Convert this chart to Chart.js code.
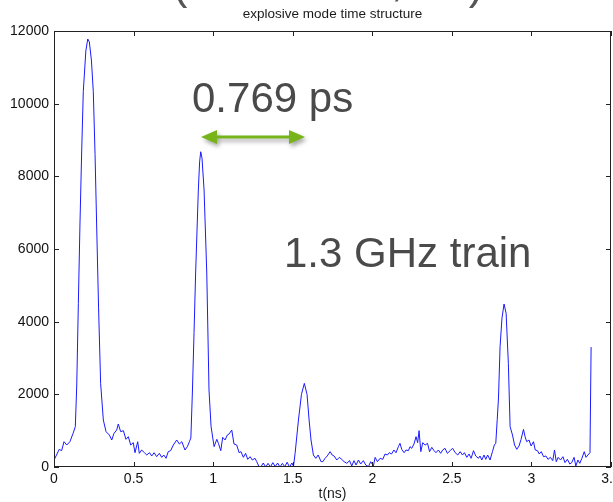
<!DOCTYPE html>
<html>
<head>
<meta charset="utf-8">
<script src="https://cdn.jsdelivr.net/npm/chart.js@4/dist/chart.umd.min.js"></script>
<style>
  html, body { margin: 0; padding: 0; background: #fff; }
  canvas { display: block; }
</style>
</head>
<body>
<canvas id="timeChart" width="613" height="502"></canvas>
<script>
// time axis (ns) and signal
const timeNs = [
  0.000, 0.033, 0.048, 0.063, 0.080, 0.100, 0.120, 0.134, 0.143, 0.153,
  0.163, 0.174, 0.184, 0.200, 0.212, 0.222, 0.235, 0.247, 0.258, 0.268,
  0.280, 0.293, 0.310, 0.327, 0.348, 0.363, 0.377, 0.394, 0.404, 0.419,
  0.436, 0.452, 0.467, 0.482, 0.498, 0.509, 0.526, 0.536, 0.551, 0.568,
  0.583, 0.600, 0.614, 0.629, 0.645, 0.662, 0.677, 0.690, 0.704, 0.718,
  0.733, 0.750, 0.771, 0.788, 0.803, 0.823, 0.838, 0.851, 0.860, 0.870,
  0.880, 0.890, 0.907, 0.915, 0.922, 0.930, 0.943, 0.960, 0.974, 0.987,
  1.006, 1.023, 1.033, 1.048, 1.060, 1.075, 1.089, 1.100, 1.117, 1.131,
  1.148, 1.163, 1.175, 1.190, 1.204, 1.217, 1.232, 1.246, 1.263, 1.274,
  1.289, 1.300, 1.315, 1.330, 1.345, 1.360, 1.375, 1.390, 1.405, 1.420,
  1.435, 1.450, 1.465, 1.480, 1.495, 1.505, 1.515, 1.536, 1.555, 1.573,
  1.590, 1.603, 1.615, 1.630, 1.645, 1.660, 1.678, 1.690, 1.703, 1.717,
  1.735, 1.748, 1.760, 1.777, 1.793, 1.808, 1.823, 1.840, 1.857, 1.871,
  1.885, 1.898, 1.913, 1.927, 1.944, 1.959, 1.976, 1.990, 2.007, 2.018,
  2.032, 2.049, 2.066, 2.080, 2.095, 2.107, 2.121, 2.136, 2.149, 2.164,
  2.174, 2.185, 2.200, 2.212, 2.227, 2.237, 2.248, 2.262, 2.275, 2.285,
  2.294, 2.305, 2.317, 2.332, 2.347, 2.360, 2.374, 2.388, 2.400, 2.415,
  2.430, 2.442, 2.457, 2.472, 2.489, 2.505, 2.520, 2.537, 2.552, 2.567,
  2.579, 2.594, 2.608, 2.621, 2.636, 2.650, 2.667, 2.677, 2.688, 2.702,
  2.713, 2.725, 2.740, 2.755, 2.767, 2.776, 2.785, 2.793, 2.803, 2.815,
  2.828, 2.841, 2.855, 2.866, 2.881, 2.894, 2.908, 2.922, 2.935, 2.950,
  2.960, 2.970, 2.985, 2.998, 3.013, 3.024, 3.038, 3.049, 3.062, 3.076,
  3.091, 3.104, 3.119, 3.134, 3.145, 3.156, 3.168, 3.183, 3.198, 3.211,
  3.226, 3.241, 3.253, 3.268, 3.279, 3.292, 3.304, 3.317, 3.332, 3.343,
  3.355, 3.368, 3.375
];
const counts = [
  190, 487, 449, 697, 605, 697, 927, 1110, 2257, 4500,
  6660, 8700, 10330, 11450, 11780, 11700, 11200, 10330, 8600, 6660,
  4400, 2300, 1293, 972, 880, 743, 927, 1018, 1183, 972,
  1000, 762, 835, 605, 670, 394, 697, 376, 468, 394,
  330, 394, 303, 394, 284, 376, 266, 330, 239, 422,
  450, 605, 743, 633, 697, 468, 560, 697, 800, 2119,
  3700, 5339, 7624, 8400, 8677, 8500, 7624, 5339, 2119, 1110,
  560, 762, 652, 449, 817, 743, 880, 908, 1018, 633,
  605, 394, 422, 266, 376, 211, 284, 193, 239, 147,
  0, 0, 110, 0, 100, 0, 120, 10, 110, 0,
  100, 10, 130, 0, 110, 20, 376, 1293, 2000, 2302,
  2000, 1293, 743, 330, 239, 330, 147, 150, 239, 303,
  422, 330, 303, 193, 266, 211, 147, 101, 175, 28,
  175, 55, 193, 82, 175, 55, 10, 147, 28, 266,
  147, 239, 211, 358, 330, 394, 358, 468, 394, 560,
  652, 486, 394, 468, 450, 560, 514, 633, 835, 670,
  1000, 422, 670, 605, 652, 422, 541, 450, 394, 468,
  376, 468, 514, 376, 450, 514, 400, 330, 422, 330,
  394, 266, 358, 239, 449, 303, 239, 303, 193, 330,
  211, 330, 193, 422, 605, 652, 1300, 1900, 3311, 4100,
  4486, 4230, 2854, 1110, 880, 605, 486, 578, 762, 1036,
  835, 697, 743, 578, 697, 468, 450, 358, 422, 284,
  303, 211, 266, 175, 468, 147, 266, 193, 284, 120,
  211, 82, 120, 266, 28, 193, 101, 239, 422, 266,
  330, 394, 3300
];
const xTicks = [0, 0.5, 1, 1.5, 2, 2.5, 3, 3.5];
const yTicks = [0, 2000, 4000, 6000, 8000, 10000, 12000];

const FONT = '"Liberation Sans", Arial, sans-serif';

// box around the axes, inward tick marks, title and slide annotations
const decorations = {
    id: 'decorations',
    afterDraw(chart) {
        const { ctx, chartArea: a, scales: { x, y } } = chart;
        ctx.save();
        ctx.strokeStyle = '#222';
        ctx.lineWidth = 1;
        ctx.strokeRect(a.left + 0.5, a.top + 0.5, a.right - a.left - 1, a.bottom - a.top - 1);
        ctx.beginPath();
        x.ticks.forEach(t => {
            const px = Math.round(x.getPixelForValue(t.value)) + 0.5;
            ctx.moveTo(px, a.bottom);
            ctx.lineTo(px, a.bottom - 5);
            ctx.moveTo(px, a.top);
            ctx.lineTo(px, a.top + 5);
        });
        y.ticks.forEach(t => {
            const py = Math.round(y.getPixelForValue(t.value)) + 0.5;
            ctx.moveTo(a.left, py);
            ctx.lineTo(a.left + 5, py);
            ctx.moveTo(a.right, py);
            ctx.lineTo(a.right - 5, py);
        });
        ctx.stroke();

        // title and x label
        ctx.fillStyle = '#1a1a1a';
        ctx.textAlign = 'center';
        ctx.textBaseline = 'middle';
        ctx.font = '13.5px ' + FONT;
        ctx.fillText('explosive mode time structure', (a.left + a.right) / 2, 14);
        ctx.font = '14px ' + FONT;
        ctx.fillText('t(ns)', (a.left + a.right) / 2, 494);

        // bottom of the slide heading, cut by the frame
        ctx.fillStyle = '#555';
        ctx.textBaseline = 'alphabetic';
        ctx.font = '44px ' + FONT;
        ctx.fillText('(', 180, -1);
        ctx.fillText(',', 397, -4);
        ctx.fillText(')', 476, -1);

        // annotations
        ctx.fillStyle = '#4a4a4a';
        ctx.textAlign = 'left';
        ctx.font = '42px ' + FONT;
        ctx.fillText('0.769 ps', 192, 112);
        ctx.fillText('1.3 GHz train', 284, 267);

        // green double arrow with soft shadow
        const x0 = 201, x1 = 305, ay = 137;
        ctx.shadowColor = 'rgba(0,0,0,0.35)';
        ctx.shadowBlur = 4;
        ctx.shadowOffsetX = 2;
        ctx.shadowOffsetY = 3;
        ctx.fillStyle = '#76b41a';
        ctx.beginPath();
        ctx.moveTo(x0, ay);
        ctx.lineTo(x0 + 16, ay - 7);
        ctx.lineTo(x0 + 16, ay - 1.5);
        ctx.lineTo(x1 - 16, ay - 1.5);
        ctx.lineTo(x1 - 16, ay - 7);
        ctx.lineTo(x1, ay);
        ctx.lineTo(x1 - 16, ay + 7);
        ctx.lineTo(x1 - 16, ay + 1.5);
        ctx.lineTo(x0 + 16, ay + 1.5);
        ctx.lineTo(x0 + 16, ay + 7);
        ctx.closePath();
        ctx.fill();
        ctx.restore();
    }
};

new Chart(document.getElementById('timeChart'), {
    type: 'line',
    data: {
        datasets: [{
            data: timeNs.map((t, i) => ({ x: t, y: counts[i] })),
            borderColor: '#1a1aff',
            borderWidth: 1,
            pointRadius: 0,
            tension: 0,
            fill: false
        }]
    },
    options: {
        responsive: false,
        animation: false,
        layout: { padding: { top: 31, right: 2, left: 0, bottom: 0 } },
        plugins: {
            legend: { display: false },
            tooltip: { enabled: false }
        },
        scales: {
            x: {
                type: 'linear',
                min: 0,
                max: 3.5,
                afterBuildTicks: s => { s.ticks = xTicks.map(v => ({ value: v })); },
                afterFit: s => { s.height = 35; s.paddingLeft = 0; s.paddingRight = 0; },
                grid: { display: false, drawTicks: false },
                border: { display: false },
                ticks: {
                    color: '#111',
                    padding: 4,
                    maxRotation: 0,
                    autoSkip: false,
                    font: { family: FONT, size: 14 },
                    callback: v => String(v)
                }
            },
            y: {
                min: 0,
                max: 12000,
                afterBuildTicks: s => { s.ticks = yTicks.map(v => ({ value: v })); },
                afterFit: s => { s.width = 54; s.paddingTop = 0; s.paddingBottom = 0; },
                grid: { display: false, drawTicks: false },
                border: { display: false },
                ticks: {
                    color: '#111',
                    padding: 5,
                    autoSkip: false,
                    font: { family: FONT, size: 14 },
                    callback: v => String(v)
                }
            }
        }
    },
    plugins: [decorations]
});
</script>
</body>
</html>
